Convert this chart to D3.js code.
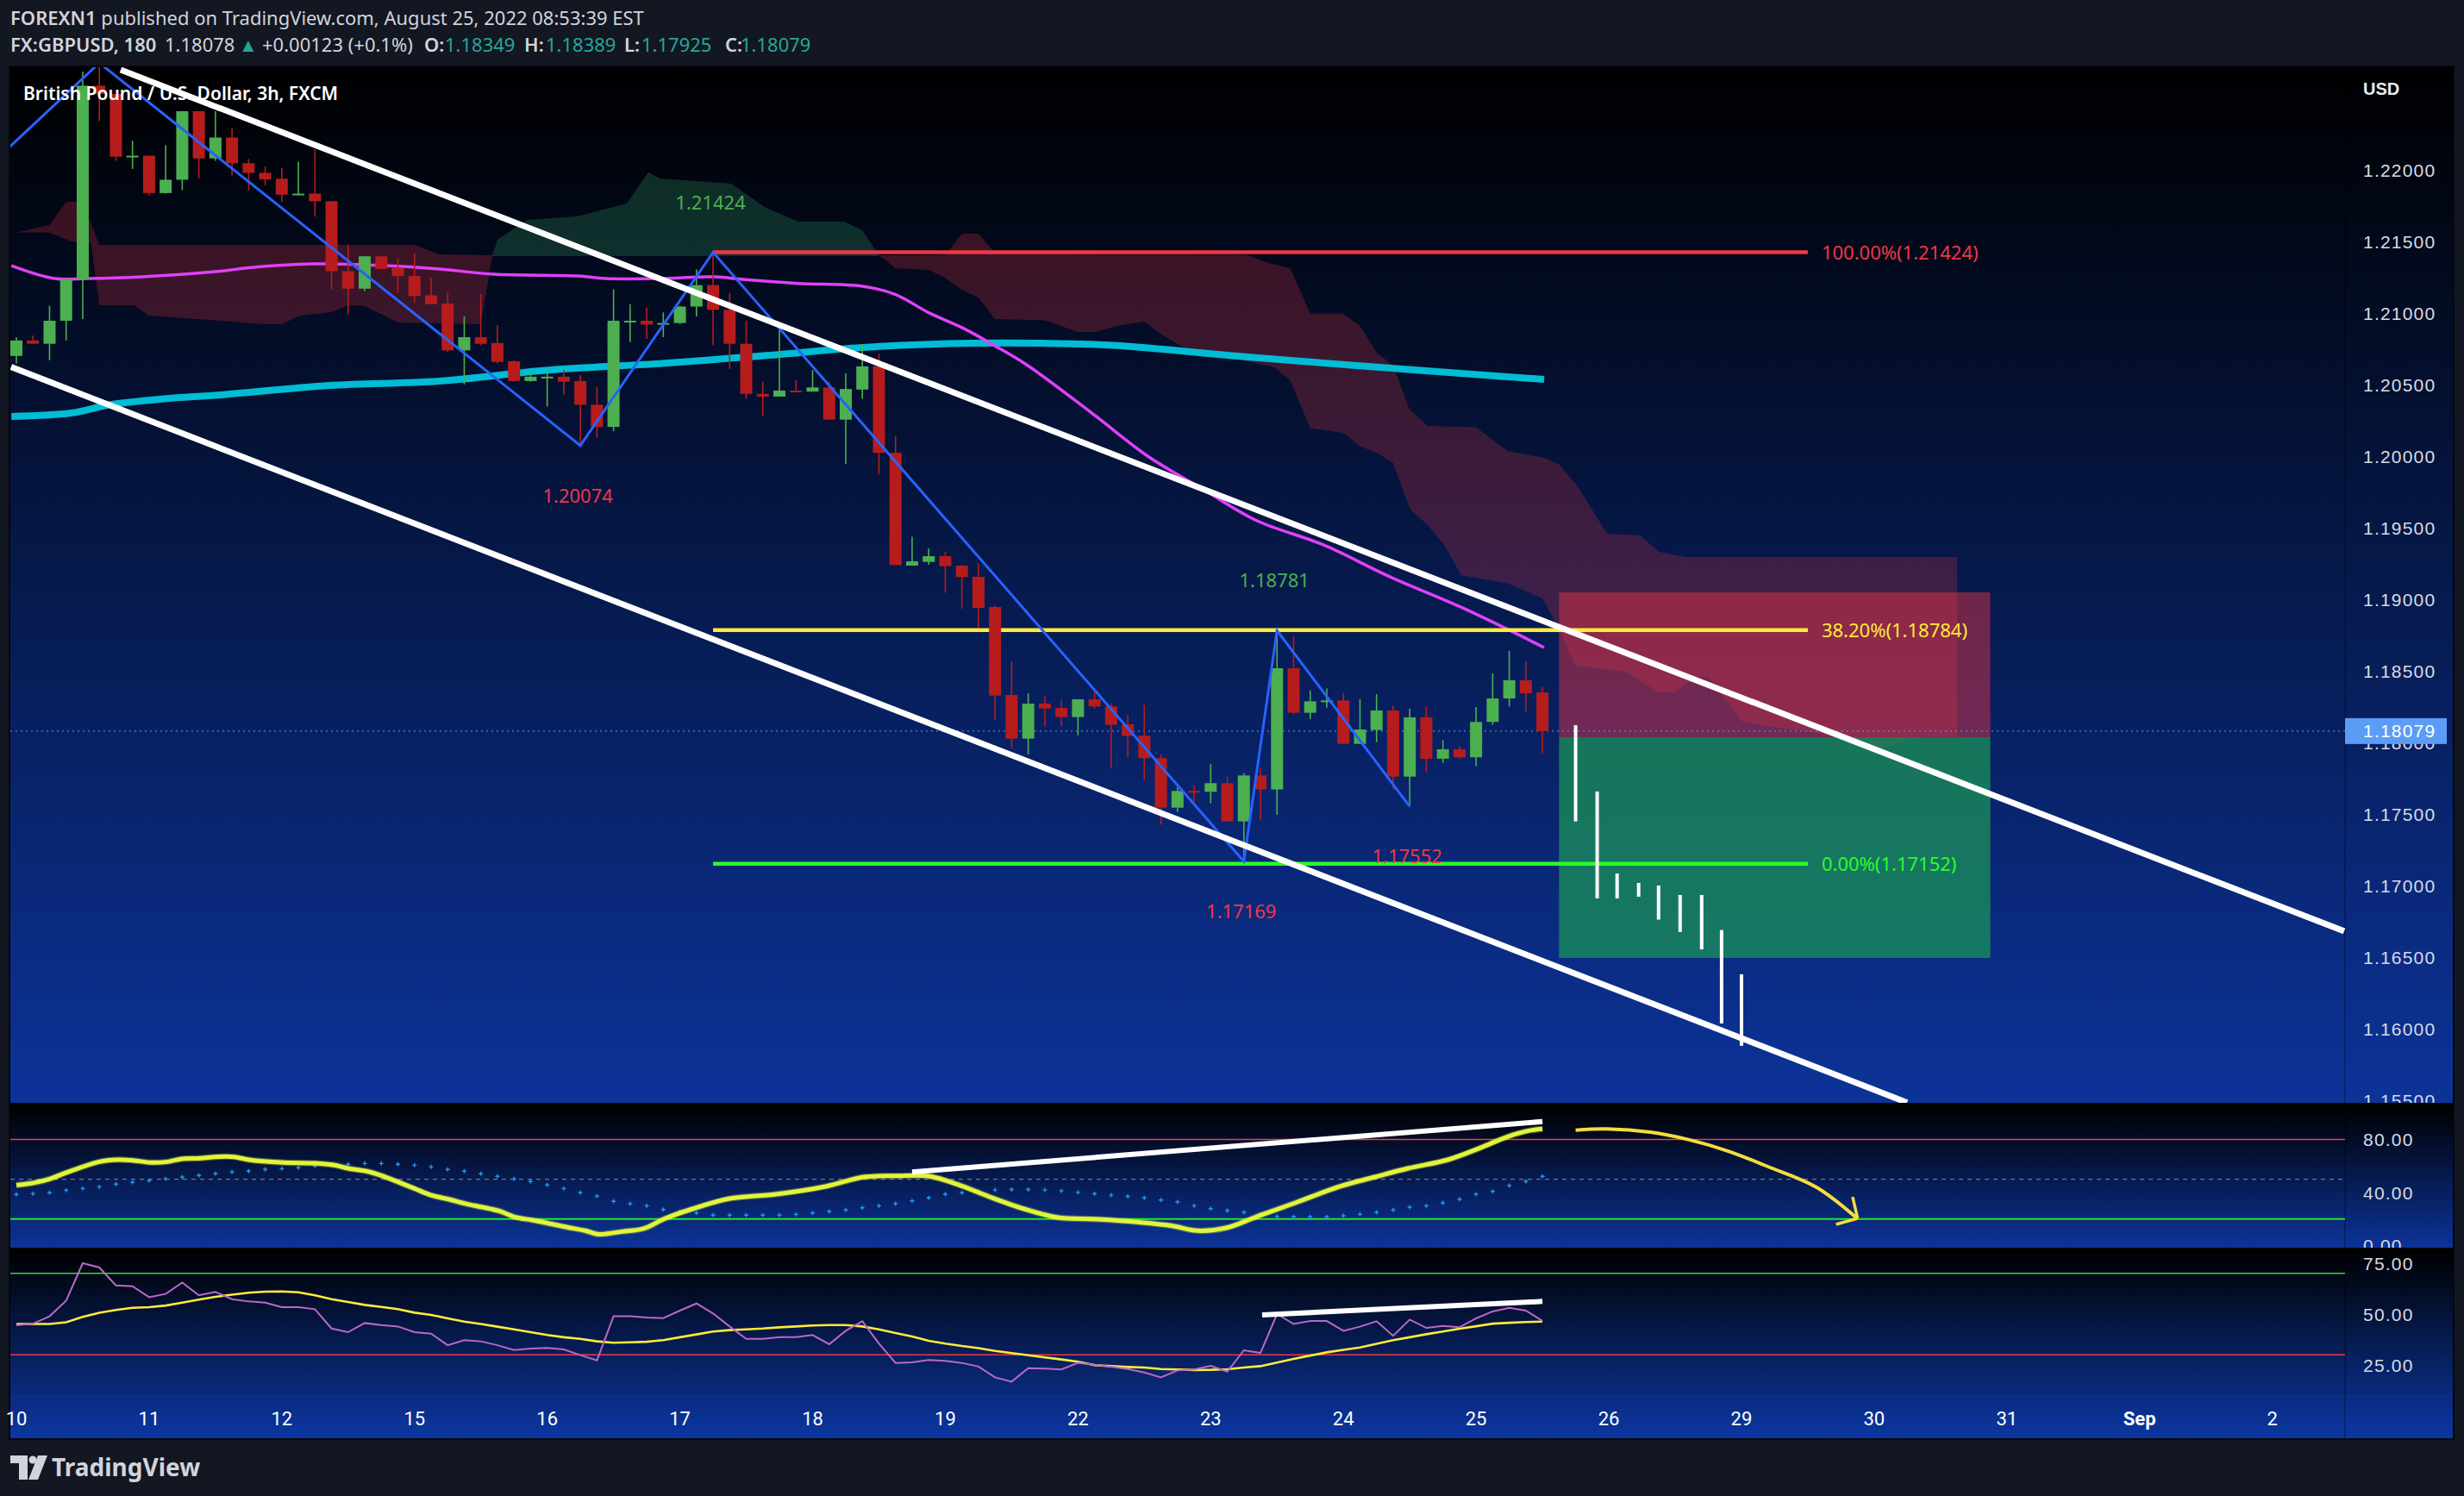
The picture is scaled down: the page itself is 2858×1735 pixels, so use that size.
<!DOCTYPE html>
<html><head><meta charset="utf-8">
<script src="https://cdn.jsdelivr.net/npm/d3@7"></script>
<style>
html,body{margin:0;padding:0;background:#131722;overflow:hidden}
svg{display:block}
</style></head>
<body>
<svg id="c" width="2858" height="1735"></svg>
<script>
// ---------------- DATA ----------------
// 3h candles, [open, high, low, close], bar 0 = start of Aug 10
const ohlc = [
[1.20700,1.20831,1.20647,1.20808],[1.20808,1.20843,1.20785,1.20785],[1.20785,1.21050,1.20670,1.20946],[1.20946,1.21246,1.20808,1.21235],
[1.21235,1.22687,1.20958,1.22588],[1.22588,1.22750,1.22341,1.22530],[1.22530,1.22530,1.22064,1.22092],[1.22092,1.22203,1.22007,1.22099],
[1.22099,1.22099,1.21822,1.21838],[1.21838,1.22173,1.21834,1.21931],[1.21931,1.22410,1.21857,1.22410],[1.22410,1.22410,1.21942,1.22080],
[1.22080,1.22410,1.22064,1.22226],[1.22226,1.22290,1.21961,1.22046],[1.22046,1.22076,1.21857,1.21979],[1.21979,1.22023,1.21892,1.21933],
[1.21938,1.22014,1.21776,1.21827],[1.21827,1.22057,1.21822,1.21834],[1.21834,1.22145,1.21673,1.21781],[1.21781,1.21781,1.21165,1.21292],
[1.21292,1.21477,1.20992,1.21170],[1.21170,1.21396,1.21154,1.21396],[1.21396,1.21396,1.21304,1.21308],[1.21315,1.21384,1.21142,1.21258],
[1.21258,1.21419,1.21073,1.21119],[1.21124,1.21246,1.21062,1.21062],[1.21066,1.21142,1.20728,1.20739],[1.20739,1.20976,1.20501,1.20831],
[1.20831,1.21131,1.20774,1.20785],[1.20790,1.20916,1.20647,1.20658],[1.20663,1.20670,1.20520,1.20525],[1.20525,1.20589,1.20520,1.20555],
[1.20550,1.20589,1.20347,1.20555],[1.20555,1.20601,1.20428,1.20520],[1.20525,1.20566,1.20074,1.20359],[1.20359,1.20483,1.20128,1.20204],
[1.20204,1.21165,1.20174,1.20946],[1.20942,1.21062,1.20797,1.20946],[1.20946,1.21039,1.20820,1.20919],[1.20919,1.21004,1.20831,1.20930],
[1.20930,1.21050,1.20923,1.21045],[1.21045,1.21304,1.20976,1.21195],[1.21195,1.21424,1.20774,1.21022],[1.21022,1.21142,1.20608,1.20785],
[1.20785,1.20946,1.20400,1.20435],[1.20435,1.20520,1.20278,1.20416],[1.20416,1.20889,1.20416,1.20458],[1.20458,1.20532,1.20451,1.20451],
[1.20451,1.20601,1.20451,1.20480],[1.20480,1.20520,1.20255,1.20255],[1.20255,1.20578,1.19944,1.20469],[1.20465,1.20783,1.20400,1.20627],
[1.20627,1.20714,1.19873,1.20023],[1.20023,1.20138,1.19239,1.19239],[1.19235,1.19436,1.19235,1.19265],[1.19261,1.19355,1.19241,1.19301],
[1.19301,1.19331,1.19046,1.19231],[1.19235,1.19241,1.18934,1.19155],[1.19157,1.19251,1.18799,1.18940],[1.18946,1.18960,1.18157,1.18327],
[1.18331,1.18568,1.17956,1.18026],[1.18026,1.18343,1.17916,1.18271],[1.18271,1.18323,1.18111,1.18237],[1.18241,1.18293,1.18111,1.18177],
[1.18177,1.18301,1.18050,1.18301],[1.18301,1.18357,1.18237,1.18251],[1.18251,1.18273,1.17821,1.18123],[1.18127,1.18191,1.17896,1.18046],
[1.18046,1.18263,1.17735,1.17890],[1.17890,1.17916,1.17424,1.17544],[1.17544,1.17685,1.17514,1.17661],[1.17661,1.17701,1.17564,1.17655],
[1.17655,1.17849,1.17574,1.17715],[1.17715,1.17761,1.17448,1.17448],[1.17448,1.17785,1.17169,1.17769],[1.17769,1.17825,1.17454,1.17671],
[1.17671,1.18781,1.17494,1.18518],[1.18518,1.18739,1.18197,1.18207],[1.18207,1.18363,1.18163,1.18287],[1.18283,1.18377,1.18243,1.18293],
[1.18293,1.18347,1.17990,1.17990],[1.17990,1.18301,1.17990,1.18090],[1.18086,1.18337,1.18002,1.18223],[1.18223,1.18257,1.17675,1.17761],
[1.17761,1.18235,1.17552,1.18175],[1.18175,1.18251,1.17789,1.17886],[1.17886,1.18016,1.17856,1.17952],[1.17952,1.17976,1.17886,1.17896],
[1.17896,1.18247,1.17835,1.18143],[1.18143,1.18482,1.18123,1.18307],[1.18307,1.18639,1.18251,1.18434],[1.18434,1.18568,1.18213,1.18343],
[1.18349,1.18389,1.17925,1.18079]
];
const lastPrice = 1.18079;

// moving averages [bar, price]
const ma200 = [[-0.3,1.20277],[3.3,1.20301],[5.6,1.20358],[8.9,1.20400],[12.3,1.20428],[18.9,1.20494],[25.5,1.20524],[32.2,1.20602],
[38.8,1.20646],[45.4,1.20705],[51,1.20759],[57.6,1.20789],[64.2,1.20783],[66.6,1.20771],[74.2,1.20693],[80.8,1.20633],[87.4,1.20575],[92.1,1.20536]];
const ma50 = [[-0.3,1.21331],[2.3,1.21241],[4.3,1.21241],[7.6,1.21253],[12.3,1.21292],[13.9,1.21315],[17.9,1.21343],[22.2,1.21331],
[25.5,1.21307],[28.8,1.21271],[33.8,1.21259],[35.5,1.21241],[38.8,1.21241],[42.1,1.21253],[43.8,1.21235],[47.1,1.21207],[51,1.21187],
[53,1.21129],[55,1.21002],[57,1.20898],[58.9,1.20777],[60.9,1.20639],[64.9,1.20295],[68.2,1.20000],[71.5,1.19771],[74.8,1.19548],
[78.8,1.19380],[82.8,1.19157],[87.4,1.18928],[92.1,1.18663]];

// Ichimoku cloud edges [bar, price]
const cloudRed1Top = [[0,1.21562],[2,1.21614],[3,1.21777],[3.8,1.21777],[4.5,1.21627],[5,1.21476],[24,1.21476],[25.5,1.21410],[28.7,1.21404]];
const cloudRed1Bot = [[0,1.21562],[2,1.21562],[3.3,1.21500],[4.5,1.21488],[5,1.21054],[7.1,1.21054],[8,1.20982],[15,1.20922],[16,1.20922],
[17.1,1.20982],[19,1.21006],[20,1.21054],[21,1.21048],[23,1.20934],[28,1.20922],[28.7,1.21404]];
const cloudGreenTop = [[28.7,1.21404],[29,1.21512],[30.8,1.21651],[33.8,1.21675],[36.8,1.21765],[38.1,1.21984],[38.8,1.21940],[43.1,1.21904],
[45.1,1.21741],[47.1,1.21639],[49.9,1.21639],[51,1.21578],[52,1.21404]];
const cloudGreenBot = [[28.7,1.21398],[52,1.21398]];
const cloudRed2Top = [[52,1.21404],[56,1.21405],[57,1.21555],[58,1.21555],[59,1.21417],[74.2,1.21405],[75.5,1.21349],[76.8,1.21313],[78,1.20995],
[80,1.20995],[81,1.20910],[82,1.20725],[83,1.20633],[84,1.20322],[85.1,1.20211],[88,1.20202],[89.9,1.20036],[92.1,1.19988],[93,1.19942],
[94.1,1.19792],[95.9,1.19458],[97.9,1.19446],[99,1.19331],[100.7,1.19295],[117,1.19295]];
const cloudRed2Bot = [[52,1.21404],[53,1.21313],[55,1.21301],[56,1.21244],[57,1.21163],[58,1.21108],[59,1.20958],[62,1.20949],[64,1.20867],
[65,1.20867],[66.6,1.20916],[68,1.20940],[69,1.20852],[70.9,1.20725],[72.9,1.20693],[75.8,1.20622],[76.8,1.20530],[78,1.20195],[80,1.20163],
[81,1.20069],[82,1.20024],[83,1.19953],[84,1.19633],[85.1,1.19515],[86.1,1.19377],[87.1,1.19169],[89.9,1.19111],[92,1.19006],[93,1.18792],
[94,1.18537],[97,1.18496],[99,1.18349],[100,1.18349],[101,1.18443],[102,1.18458],[103,1.18307],[104,1.18147],[106,1.18108],[108.5,1.18066],
[112.5,1.17958],[114.8,1.18039],[117,1.18039]];

// zigzag pivots [bar, price]
const zigzag = [[-1,1.22096],[5,1.22747],[34,1.20074],[42,1.21424],[74,1.17169],[76,1.18781],[84,1.17552]];
const pivotLabels = [[42,1.21424,"high"],[34,1.20074,"low"],[76,1.18781,"high"],[84,1.17552,"low"],[74,1.17169,"low"]];

// channel [bar, price]
const channelUpper = [[6.29,1.22699],[140.33,1.16681]];
const channelLower = [[-0.32,1.20623],[113.98,1.15484]];

// fibonacci retracement
const fibStart = 42, fibEnd = 108;
const fibLevels = [[100,1.21424],[38.2,1.18784],[0,1.17152]];

// short position tool
const posStart = 93, posEnd = 119, posStop = 1.19048, posEntry = 1.18036, posTarget = 1.16494;

// projected bars [bar, high, low]
const ghostBars = [[94.0,1.18120,1.17448],[95.3,1.17657,1.16910],[96.5,1.17084,1.16910],[97.8,1.17018,1.16922],[99.0,1.17000,1.16762],
[100.3,1.16934,1.16676],[101.6,1.16934,1.16554],[102.8,1.16689,1.16036],[104.0,1.16380,1.15880]];

// stochastic-type oscillator (pane 1)
const oscLine = [[0,45.5],[1.1,47.4],[2,50.2],[3.1,55.4],[5,63.2],[6.1,64.7],[7,64.3],[8.1,62.6],[9,63.0],[10,65.4],[11.1,65.8],[12,66.9],
[13.1,66.9],[14,64.7],[16.1,62.6],[18,62.1],[19.1,60.8],[20,58.2],[21.1,56.1],[22,52.8],[22.9,48.5],[24,43.0],[25,38.0],[26.1,34.8],
[27.1,31.5],[28.1,28.9],[29.1,26.1],[30.1,21.3],[31.1,19.2],[32.2,16.4],[33.2,13.8],[34.3,11.2],[35.1,8.5],[36.5,10.5],[37.8,12.7],
[39.1,20.3],[40.8,27.8],[43,35.4],[45.8,38.7],[48.8,44.6],[51.1,51.7],[53,52.5],[55,52.4],[56.7,46.3],[58.7,36.6],[60.7,27.8],[62.7,21.3],
[65.2,19.8],[67.7,17.5],[69.7,14.8],[71.2,11.2],[73,13.5],[74.9,22.4],[77.1,32.2],[79.8,44.6],[81.9,51.7],[83.9,58.2],[86.3,64.7],
[88.2,73.4],[89.9,82.1],[91.1,86.4],[92,87.9]];
const oscCross = [38.5,39.1,39.8,41.7,43.0,44.3,46.3,47.6,48.9,50.2,51.5,52.8,54.1,55.4,56.1,57.4,58.0,58.7,60.0,60.6,61.3,61.9,61.9,61.3,
60.6,59.3,57.4,56.1,54.1,52.2,50.2,48.3,45.7,43.0,39.8,37.2,33.3,31.5,30.0,27.2,25.7,24.6,22.9,22.9,22.9,22.9,22.9,23.5,24.6,25.7,
26.8,28.5,30.0,31.5,33.7,35.9,38.7,39.8,40.8,41.9,42.3,42.3,41.9,41.2,40.1,39.0,38.0,37.1,35.9,34.3,32.8,30.0,27.8,26.3,25.0,23.5,
22.0,21.6,21.6,21.6,22.4,23.5,25.0,26.8,28.9,30.0,32.2,35.0,38.7,40.8,45.2,48.5,52.2];
const oscTrend = [[54,55.4],[92,93.5]];
const oscArrow = [[94.0,87.0],[95.9,87.9],[98.5,85.5],[100.8,79.9],[103.2,71.2],[105.6,59.5],[108.5,44.1],[110.9,21.3]];
const oscArrowHead = [[[110.7,36.6],[111.0,20.5]],[[109.7,15.9],[111.0,20.5]]];

// RSI (pane 2)
const rsi = [44.5,45.3,48.9,56.6,75.0,72.9,64.1,63.7,58.3,59.9,65.5,59.2,60.9,57.3,56.2,55.6,53.4,53.4,52.4,42.9,41.1,45.6,44.6,43.9,
41.1,40.4,34.7,37.2,36.6,34.7,32.3,33.1,33.4,32.6,29.8,27.2,48.9,48.9,48.3,48.0,51.7,55.2,50.3,43.9,37.8,37.8,38.7,38.7,39.7,35.2,
41.8,46.5,35.5,26.0,26.3,27.4,27.0,26.0,24.2,18.9,16.8,23.4,23.2,22.8,26.0,25.1,24.2,23.0,21.3,18.9,22.3,22.8,24.6,21.7,32.2,30.9,
50.0,45.1,46.6,46.6,41.8,43.8,46.5,39.3,47.3,43.2,44.2,43.5,47.9,51.3,53.1,51.7,46.7];
const rsiMA = [45.1,45.1,45.1,46.0,48.6,50.6,52.0,53.1,53.4,54.2,55.6,57.1,58.5,59.5,60.5,61.0,61.1,60.7,59.2,57.3,55.9,54.5,53.5,52.4,
50.7,49.6,47.9,46.3,45.1,43.8,42.5,41.1,39.7,38.6,37.8,36.6,35.9,36.1,36.4,37.2,38.6,40.0,41.4,42.1,42.5,42.9,43.5,43.9,44.4,44.6,
44.6,43.9,42.5,40.7,39.0,36.9,35.5,34.3,33.3,31.9,30.8,29.8,28.7,27.7,26.6,24.9,24.4,24.0,23.7,23.0,22.8,22.5,22.6,22.9,23.7,24.4,
26.2,28.0,29.6,31.2,32.4,33.6,35.4,37.2,38.6,40.1,41.4,42.8,44.0,45.3,45.7,46.1,46.3];
const rsiTrend = [[75.1,49.6],[92,56.2]];

// axes
const priceTicks = [1.22,1.215,1.21,1.205,1.2,1.195,1.19,1.185,1.18,1.175,1.17,1.165,1.16,1.155];
const oscTicks = [80,40,0];
const rsiTicks = [75,50,25];
const dayLabels = ["10","11","12","15","16","17","18","19","22","23","24","25","26","29","30","31","Sep","2"];
const barsPerDay = 8;

// header legend pieces [text, kind]
const legendLine1 = [["FOREXN1","b"],[" published on TradingView.com, August 25, 2022 08:53:39 EST","r"]];
const legendLine2 = [["FX:GBPUSD, 180","b",12],["1.18078","r",191],["\u25B2","v",277],["+0.00123 (+0.1%)","r",304],
  ["O:","b",492],["1.18349","v",516],["H:","b",608],["1.18389","v",633],["L:","b",724],["1.17925","v",744],["C:","b",841],["1.18079","v",859]];

// ---------------- LAYOUT ----------------
const L=12, R=2720, AXR=2845;
const mainTop=78, mainBot=1279, p1Top=1281, p1Bot=1447, p2Top=1449, p2Bot=1620, axBot=1668;

const svg = d3.select('#c');
const defs = svg.append('defs');
function grad(id,c0,c1){
  const g=defs.append('linearGradient').attr('id',id).attr('x1',0).attr('y1',0).attr('x2',0).attr('y2',1);
  g.append('stop').attr('offset','0%').attr('stop-color',c0);
  g.append('stop').attr('offset','100%').attr('stop-color',c1);
}
grad('gMain','#000000','#0c3399');
grad('gP1','#000000','#0c3399');
grad('gP2','#000000','#0c37a3');
function clip(id,x0,y0,w,h){defs.append('clipPath').attr('id',id).append('rect').attr('x',x0).attr('y',y0).attr('width',w).attr('height',h);}
clip('cMain',L,mainTop,R-L,mainBot-mainTop);
clip('cMainAx',R,mainTop,AXR-R,mainBot-mainTop);
clip('cP1',L,p1Top,R-L,p1Bot-p1Top);
clip('cP1Ax',R,p1Top,AXR-R,p1Bot-p1Top);
clip('cP2',L,p2Top,R-L,p2Bot-p2Top);

// scales
const x = d3.scaleLinear().domain([0,100]).range([19,19+1924]);
const y = d3.scaleLinear().domain([1.22,1.155]).range([197,1276]);
const ys = d3.scaleLinear().domain([0,80]).range([1444.5,1321.5]);
const yr = d3.scaleLinear().domain([25,75]).range([1583,1465]);

// page background
svg.append('rect').attr('width',2858).attr('height',1735).attr('fill','#131722');
svg.append('rect').attr('x',L-2).attr('y',mainTop-2).attr('width',AXR-L+4).attr('height',axBot-mainTop+4).attr('fill','#05070c');
svg.append('rect').attr('x',L).attr('y',mainTop).attr('width',AXR-L).attr('height',mainBot-mainTop).attr('fill','url(#gMain)');
svg.append('rect').attr('x',L).attr('y',p1Top).attr('width',AXR-L).attr('height',p1Bot-p1Top).attr('fill','url(#gP1)');
svg.append('rect').attr('x',L).attr('y',p2Top).attr('width',AXR-L).attr('height',axBot-p2Top).attr('fill','url(#gP2)');
svg.append('line').attr('x1',R).attr('x2',R).attr('y1',mainTop).attr('y2',axBot).attr('stroke','rgba(0,0,0,0.35)').attr('stroke-width',1.5);
svg.append('line').attr('x1',L).attr('x2',AXR).attr('y1',p2Bot).attr('y2',p2Bot).attr('stroke','rgba(255,255,255,0.05)').attr('stroke-width',1);

// header
const hdrFont = "'Noto Sans', 'Open Sans', sans-serif";
const h1 = svg.append('text').attr('x',12).attr('y',29).attr('font-family',hdrFont).attr('font-size',22).attr('fill','#d1d4dc');
legendLine1.forEach(p=>h1.append('tspan').attr('font-weight',p[1]==='b'?600:400).text(p[0]));
const h2 = svg.append('g').attr('font-family',hdrFont).attr('font-size',22);
legendLine2.forEach(p=>{
  h2.append('text').attr('x',p[2]).attr('y',60).attr('font-weight',p[1]==='b'?600:400)
    .attr('fill',p[1]==='v'?'#26a69a':'#d1d4dc').text(p[0]);
});

// ---------------- MAIN PANE ----------------
const gm = svg.append('g').attr('clip-path','url(#cMain)');

// cloud
function poly(top,bot){
  const pts = top.map(d=>[x(d[0]),y(d[1])]).concat(bot.slice().reverse().map(d=>[x(d[0]),y(d[1])]));
  return 'M'+pts.map(p=>p[0].toFixed(1)+','+p[1].toFixed(1)).join('L')+'Z';
}
const redCloud='rgba(190,45,60,0.30)', greenCloud='rgba(60,170,110,0.24)';
gm.append('path').attr('d',poly(cloudRed1Top,cloudRed1Bot)).attr('fill',redCloud);
gm.append('path').attr('d',poly(cloudGreenTop,cloudGreenBot)).attr('fill',greenCloud);
gm.append('path').attr('d',poly(cloudRed2Top,cloudRed2Bot)).attr('fill',redCloud);

const lineP = d3.line().x(d=>x(d[0])).y(d=>y(d[1])).curve(d3.curveCatmullRom.alpha(0.5));
gm.append('path').attr('d',lineP(ma200)).attr('fill','none').attr('stroke','#00bcd4').attr('stroke-width',8).attr('stroke-linecap','butt');
gm.append('path').attr('d',lineP(ma50)).attr('fill','none').attr('stroke','#e040fb').attr('stroke-width',3.5);

// position tool
gm.append('rect').attr('x',x(posStart)).attr('width',x(posEnd)-x(posStart)).attr('y',y(posStop)).attr('height',y(posEntry)-y(posStop))
  .attr('fill','rgba(242,54,69,0.45)');
gm.append('rect').attr('x',x(posStart)).attr('width',x(posEnd)-x(posStart)).attr('y',y(posEntry)).attr('height',y(posTarget)-y(posEntry))
  .attr('fill','rgba(28,150,88,0.72)');

// last price dotted line
gm.append('line').attr('x1',L).attr('x2',R).attr('y1',y(lastPrice)).attr('y2',y(lastPrice))
  .attr('stroke','#4f86ea').attr('stroke-width',1.3).attr('stroke-dasharray','2,4');

// fib lines
const fibColors = {100:'#f23645',38.2:'#ffeb3b',0:'#29ff29'};
fibLevels.forEach(f=>{
  gm.append('line').attr('x1',x(fibStart)).attr('x2',x(fibEnd)).attr('y1',y(f[1])).attr('y2',y(f[1]))
    .attr('stroke',fibColors[f[0]]).attr('stroke-width',4.5);
  gm.append('text').attr('x',x(fibEnd)+16).attr('y',y(f[1])).attr('dy','0.36em').attr('font-family',hdrFont).attr('font-size',22)
    .attr('fill',fibColors[f[0]]).text(f[0].toFixed(2)+'%('+f[1].toFixed(5)+')');
});

// candles
const up='#4caf50', dn='#b71c1c';
const cg = gm.append('g');
ohlc.forEach((d,i)=>{
  const col = d[3]>=d[0]?up:dn;
  cg.append('line').attr('x1',x(i)).attr('x2',x(i)).attr('y1',y(d[1])).attr('y2',y(d[2])).attr('stroke',col).attr('stroke-width',1.6);
  const yt=y(Math.max(d[0],d[3])), yb=y(Math.min(d[0],d[3]));
  cg.append('rect').attr('x',x(i)-7).attr('width',14).attr('y',yt).attr('height',Math.max(2,yb-yt)).attr('fill',col);
});

// zigzag
gm.append('path').attr('d',d3.line().x(d=>x(d[0])).y(d=>y(d[1]))(zigzag)).attr('fill','none').attr('stroke','#2962ff').attr('stroke-width',3);

// pivot labels
pivotLabels.forEach(p=>{
  const hi = p[2]==='high';
  gm.append('text').attr('x',x(p[0])-3).attr('y',y(p[1])+(hi?-58:58)).attr('dy','0.36em').attr('text-anchor','middle')
    .attr('font-family',hdrFont).attr('font-size',22).attr('fill',hi?'#4caf50':'#f23645').text(p[1].toFixed(5));
});

// title (legend overlay)
gm.append('text').attr('x',27).attr('y',116).attr('font-family',hdrFont).attr('font-size',21).attr('font-weight',600)
  .attr('fill','#ffffff').text('British Pound / U.S. Dollar, 3h, FXCM');

// channel
[channelUpper,channelLower].forEach(c=>{
  gm.append('line').attr('x1',x(c[0][0])).attr('y1',y(c[0][1])).attr('x2',x(c[1][0])).attr('y2',y(c[1][1]))
    .attr('stroke','#ffffff').attr('stroke-width',7);
});

// projected bars
ghostBars.forEach(b=>{
  gm.append('line').attr('x1',x(b[0])).attr('x2',x(b[0])).attr('y1',y(b[1])).attr('y2',y(b[2])).attr('stroke','#ffffff').attr('stroke-width',4);
});

// price axis
const axFont = "'Liberation Sans', Arial, sans-serif";
const gax = svg.append('g').attr('clip-path','url(#cMainAx)');
gax.append('text').attr('x',2741).attr('y',103).attr('dy','0.36em').attr('font-family',axFont).attr('font-size',20).attr('font-weight',700)
  .attr('fill','#e8eaef').text('USD');
priceTicks.forEach(t=>{
  gax.append('text').attr('x',2741).attr('y',y(t)).attr('dy','0.36em').attr('font-family',axFont).attr('font-size',21)
    .attr('letter-spacing',1.2).attr('fill','#d8dbe2').text(t.toFixed(5));
});
gax.append('rect').attr('x',R).attr('y',y(lastPrice)-15).attr('width',118).attr('height',30).attr('fill','#5b9cf6');
gax.append('text').attr('x',2741).attr('y',y(lastPrice)).attr('dy','0.36em').attr('font-family',axFont).attr('font-size',21)
  .attr('letter-spacing',1.2).attr('fill','#ffffff').text(lastPrice.toFixed(5));

// ---------------- PANE 1 ----------------
const g1 = svg.append('g').attr('clip-path','url(#cP1)');
g1.append('line').attr('x1',L).attr('x2',R).attr('y1',ys(80)).attr('y2',ys(80)).attr('stroke','#e8414f').attr('stroke-width',1.3);
g1.append('line').attr('x1',L).attr('x2',R).attr('y1',ys(20)).attr('y2',ys(20)).attr('stroke','#1fe81f').attr('stroke-width',2);
g1.append('line').attr('x1',L).attr('x2',R).attr('y1',ys(50)).attr('y2',ys(50)).attr('stroke','#6f7587').attr('stroke-width',1.2).attr('stroke-dasharray','5,5');
oscCross.forEach((v,i)=>{
  g1.append('path').attr('d',`M${x(i)-2.5},${ys(v)}H${x(i)+2.5}M${x(i)},${ys(v)-2.5}V${ys(v)+2.5}`).attr('stroke','#2196f3').attr('stroke-width',1.4);
});
const lineS = d3.line().x(d=>x(d[0])).y(d=>ys(d[1])).curve(d3.curveCatmullRom.alpha(0.5));
g1.append('path').attr('d',lineS(oscLine)).attr('fill','none').attr('stroke','rgba(220,245,60,0.3)').attr('stroke-width',7.5);
g1.append('path').attr('d',lineS(oscLine)).attr('fill','none').attr('stroke','#e2f53a').attr('stroke-width',5);
g1.append('line').attr('x1',x(oscTrend[0][0])).attr('y1',ys(oscTrend[0][1])).attr('x2',x(oscTrend[1][0])).attr('y2',ys(oscTrend[1][1]))
  .attr('stroke','#ffffff').attr('stroke-width',6);
g1.append('path').attr('d',lineS(oscArrow)).attr('fill','none').attr('stroke','#f5dd3c').attr('stroke-width',4);
oscArrowHead.forEach(s=>{
  g1.append('line').attr('x1',x(s[0][0])).attr('y1',ys(s[0][1])).attr('x2',x(s[1][0])).attr('y2',ys(s[1][1])).attr('stroke','#f5dd3c').attr('stroke-width',3.5);
});
const g1a = svg.append('g').attr('clip-path','url(#cP1Ax)');
oscTicks.forEach(t=>{
  g1a.append('text').attr('x',2741).attr('y',ys(t)).attr('dy','0.36em').attr('font-family',axFont).attr('font-size',21)
    .attr('letter-spacing',1.2).attr('fill','#d8dbe2').text(t.toFixed(2));
});

// ---------------- PANE 2 ----------------
const g2 = svg.append('g').attr('clip-path','url(#cP2)');
g2.append('line').attr('x1',L).attr('x2',R).attr('y1',yr(70)).attr('y2',yr(70)).attr('stroke','#3fd33f').attr('stroke-width',1.6);
g2.append('line').attr('x1',L).attr('x2',R).attr('y1',yr(30)).attr('y2',yr(30)).attr('stroke','#f23645').attr('stroke-width',1.6);
const lineR = d3.line().x((d,i)=>x(i)).y(d=>yr(d));
g2.append('path').attr('d',lineR(rsiMA)).attr('fill','none').attr('stroke','#ffeb3b').attr('stroke-width',2.6);
g2.append('path').attr('d',lineR(rsi)).attr('fill','none').attr('stroke','#ba68c8').attr('stroke-width',2);
g2.append('line').attr('x1',x(rsiTrend[0][0])).attr('y1',yr(rsiTrend[0][1])).attr('x2',x(rsiTrend[1][0])).attr('y2',yr(rsiTrend[1][1]))
  .attr('stroke','#ffffff').attr('stroke-width',6);
rsiTicks.forEach(t=>{
  svg.append('text').attr('x',2741).attr('y',yr(t)).attr('dy','0.36em').attr('font-family',axFont).attr('font-size',21)
    .attr('letter-spacing',1.2).attr('fill','#d8dbe2').text(t.toFixed(2));
});

// ---------------- TIME AXIS ----------------
dayLabels.forEach((lab,k)=>{
  svg.append('text').attr('x',x(k*barsPerDay)).attr('y',1645).attr('dy','0.36em').attr('text-anchor','middle')
    .attr('font-family',"Roboto, 'Liberation Sans', sans-serif").attr('font-size',22).attr('font-weight',lab==='Sep'?700:400)
    .attr('fill','#ffffff').text(lab);
});

// ---------------- LOGO ----------------
const lg = svg.append('g').attr('fill','#d1d4dc');
lg.append('path').attr('d','M12,1688H32V1716H22V1697H12Z');
lg.append('circle').attr('cx',38).attr('cy',1693).attr('r',4.5);
lg.append('path').attr('d','M44,1688H55L44,1716H33Z');
svg.append('text').attr('x',60).attr('y',1712).attr('font-family',hdrFont).attr('font-size',28).attr('font-weight',700)
  .attr('fill','#d1d4dc').text('TradingView');
</script>
</body></html>
